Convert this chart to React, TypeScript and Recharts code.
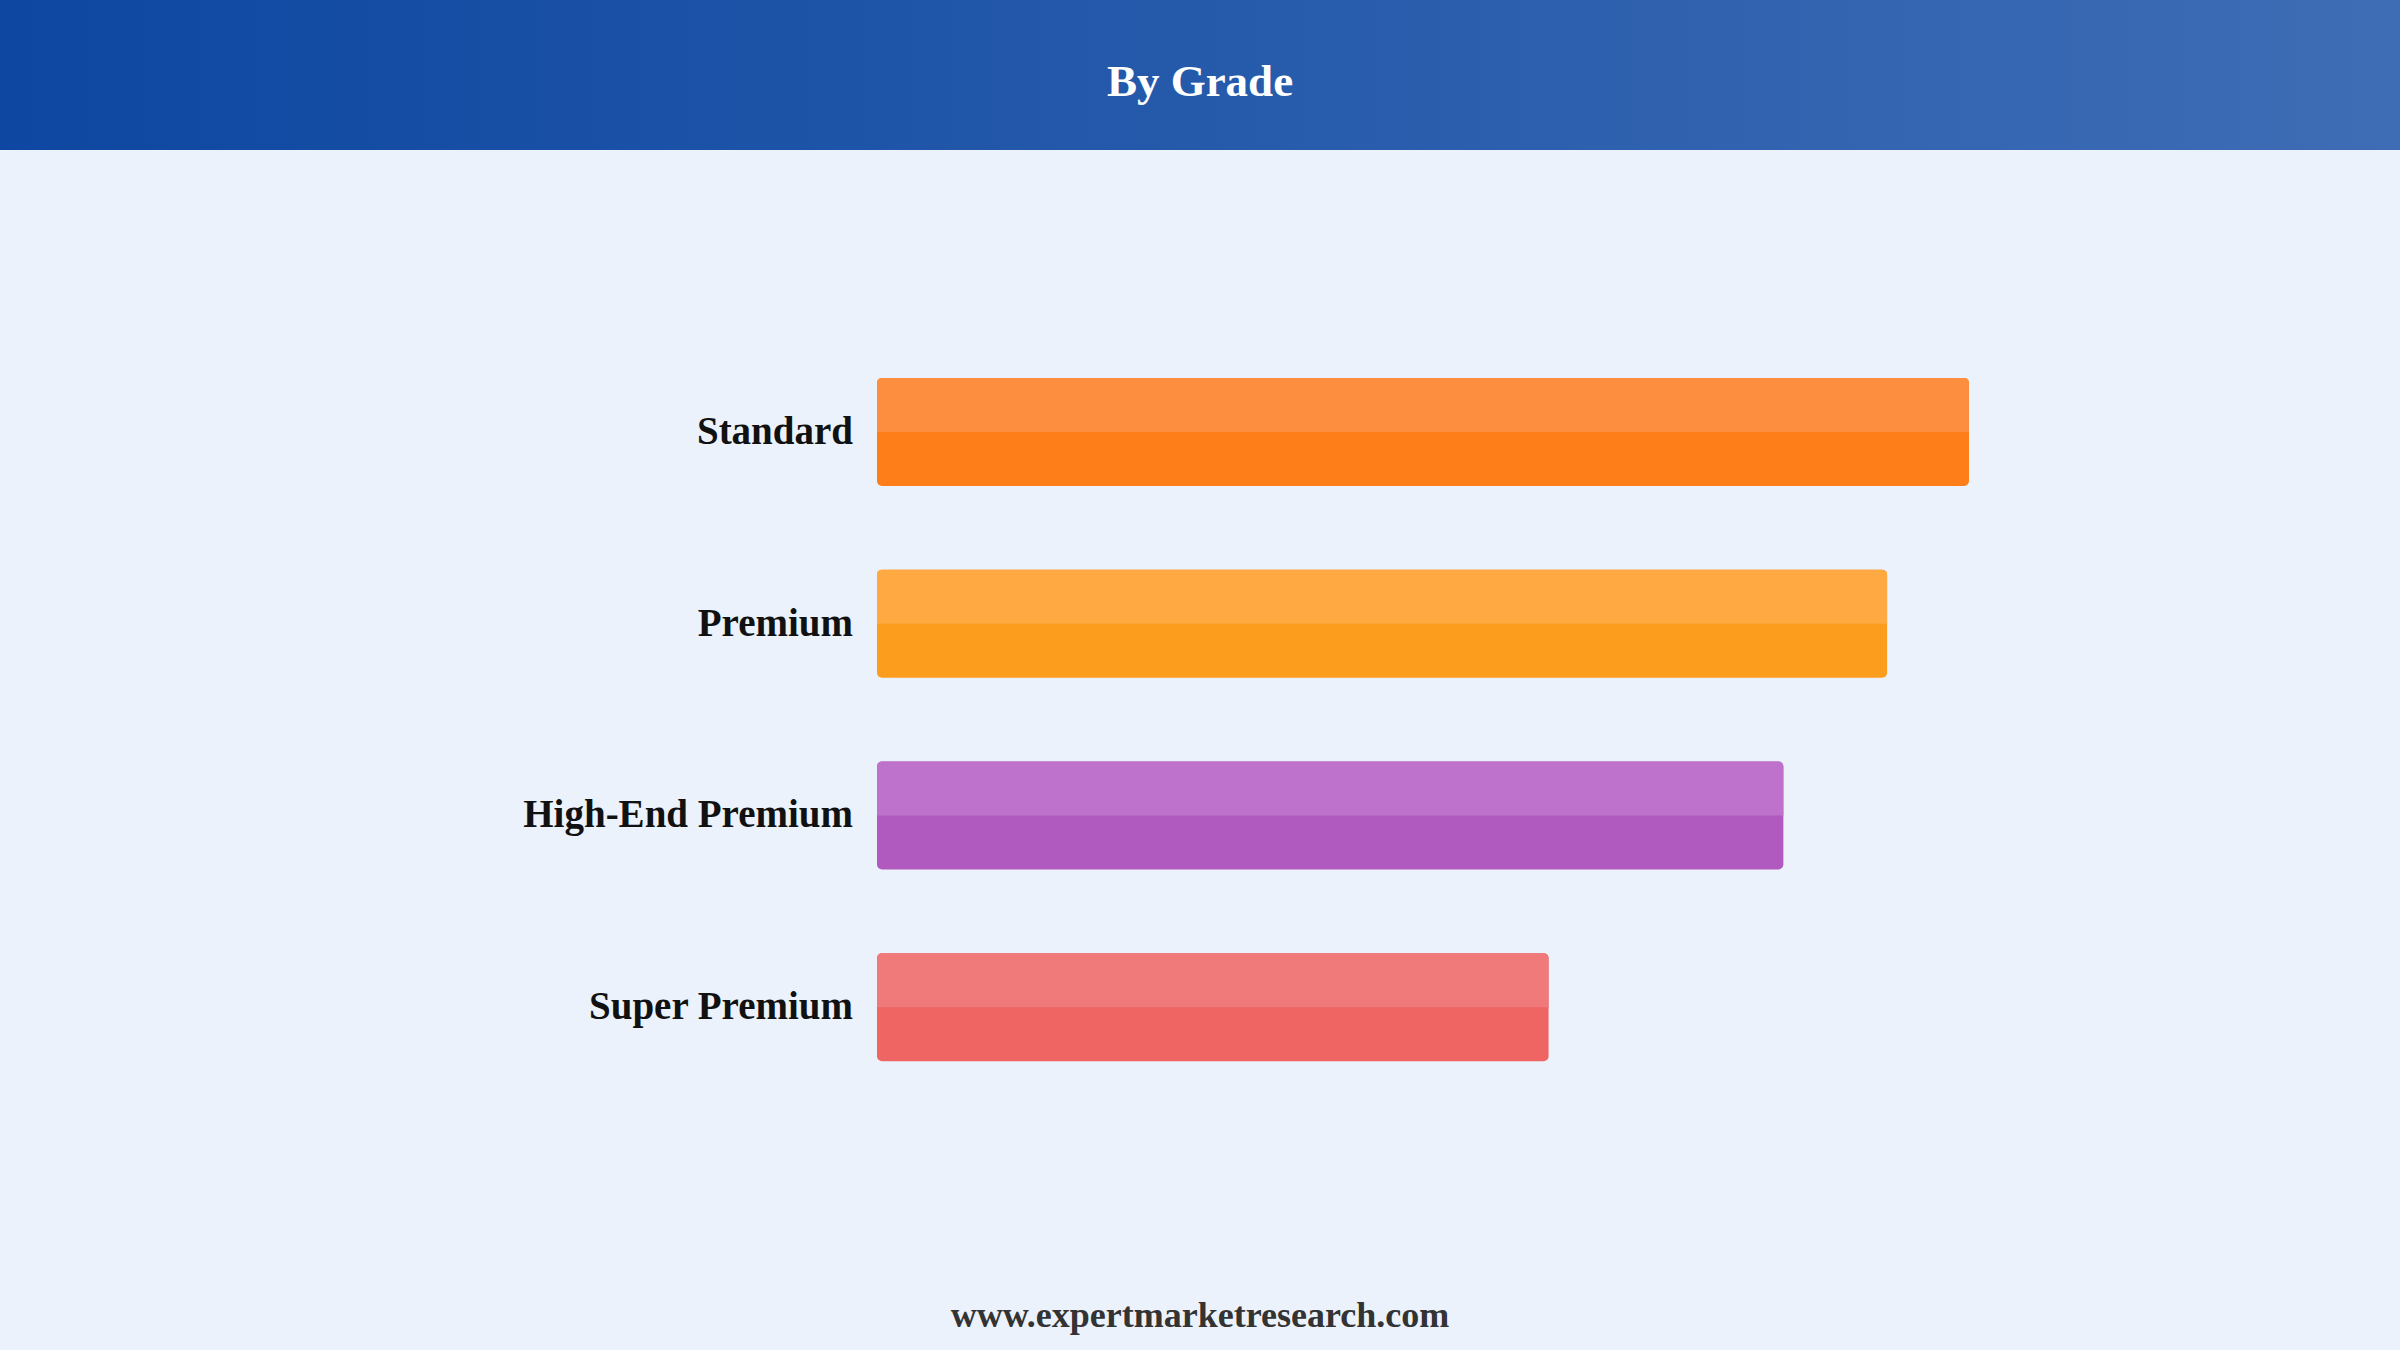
import React from 'react';
import { BarChart, Bar, XAxis, YAxis } from 'recharts';

const categories = ['Standard', 'Premium', 'High-End Premium', 'Super Premium'];
const values = [40, 37, 33.2, 24.6];
const topColors = ['#FE8E3F', '#FEA941', '#BF72CB', '#F07A7A'];
const bottomColors = ['#FE7E1A', '#FD9D1D', '#B05AC0', '#EE6563'];

const data = categories.map((name, i) => ({ name, value: values[i] }));

const FONT = '"Liberation Serif", "Times New Roman", serif';

const BarShape = (props: any) => {
  const { x, y, width, height, index } = props;
  if (!width || width <= 0) return null;
  const r = 5;
  const half = height / 2;
  const d = `M${x},${y + half} L${x},${y + r} Q${x},${y} ${x + r},${y} L${x + width - r},${y} Q${x + width},${y} ${x + width},${y + r} L${x + width},${y + half} Z`;
  return (
    <g>
      <rect x={x} y={y} width={width} height={height} rx={r} ry={r} fill={bottomColors[index]} />
      <path d={d} fill={topColors[index]} />
    </g>
  );
};

const Tick = (props: any) => {
  const { x, y, payload } = props;
  return (
    <text
      x={x}
      y={y}
      dy="0.31em"
      textAnchor="end"
      fill="#111111"
      fontFamily={FONT}
      fontWeight="bold"
      fontSize={39}
    >
      {payload.value}
    </text>
  );
};

export default function App() {
  return (
    <div
      style={{
        position: 'absolute',
        left: 0,
        top: 0,
        width: 2400,
        height: 1350,
        background: '#EBF2FC',
        overflow: 'hidden',
      }}
    >
      <div
        style={{
          position: 'absolute',
          left: 0,
          top: 0,
          width: 2400,
          height: 150,
          background: 'linear-gradient(90deg, #0D47A1 0%, #3E6DB5 100%)',
        }}
      />
      <svg
        width={2400}
        height={1350}
        style={{ position: 'absolute', left: 0, top: 0, pointerEvents: 'none' }}
      >
        <text
          x={1200}
          y={96}
          textAnchor="middle"
          fill="#FFFFFF"
          fontFamily={FONT}
          fontWeight="bold"
          fontSize={45}
        >
          By Grade
        </text>
        <text
          x={1200}
          y={1327}
          textAnchor="middle"
          fill="#333333"
          fontFamily={FONT}
          fontWeight="bold"
          fontSize={36}
        >
          www.expertmarketresearch.com
        </text>
      </svg>
      <div style={{ position: 'absolute', left: 0, top: 0 }}>
        <BarChart
          width={2400}
          height={1350}
          data={data}
          layout="vertical"
          margin={{ top: 336, right: 431, bottom: 247, left: 0 }}
        >
          <XAxis type="number" domain={[0, 40]} hide />
          <YAxis
            type="category"
            dataKey="name"
            width={877}
            axisLine={false}
            tickLine={false}
            tickSize={0}
            tickMargin={24}
            tick={<Tick />}
            interval={0}
          />
          <Bar dataKey="value" barSize={108} shape={<BarShape />} isAnimationActive={false} />
        </BarChart>
      </div>
    </div>
  );
}
